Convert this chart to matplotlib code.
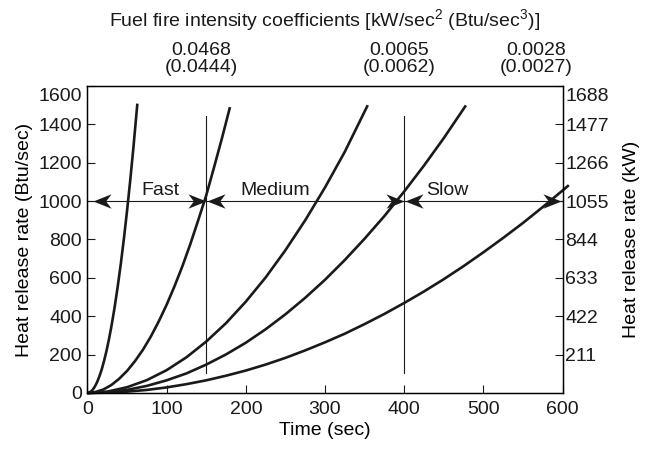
import matplotlib
matplotlib.use("Agg")
import matplotlib.pyplot as plt
from matplotlib.path import Path
from matplotlib.transforms import blended_transform_factory, ScaledTranslation

plt.rcParams["font.family"] = ["Liberation Sans", "DejaVu Sans"]
plt.rcParams["mathtext.fontset"] = "custom"
plt.rcParams["mathtext.rm"] = "Liberation Sans"
plt.rcParams["mathtext.default"] = "rm"
FS = 14

# heat release curves (time in s, Q in Btu/sec)
t_ultra = [0, 3, 6, 9, 12, 15, 18, 21, 24, 27, 30, 34, 38, 42, 46, 50, 54, 58, 63]
q_ultra = [0, 4, 14, 31, 55, 86, 123, 168, 219, 277, 342, 439, 549, 670, 804, 950,
           1108, 1278, 1508]
t_fast = [0, 10, 20, 30, 40, 50, 60, 70, 80, 90, 100, 110, 120, 130, 140, 150,
          160, 170, 180]
q_fast = [0, 5, 18, 41, 74, 115, 166, 225, 294, 373, 460, 557, 662, 777, 902, 1030,
          1178, 1330, 1490]
t_med = [0, 25, 50, 75, 100, 125, 150, 175, 200, 225, 250, 275, 300, 325, 354]
q_med = [0, 7, 30, 67, 119, 186, 268, 364, 476, 602, 744, 900, 1071, 1257, 1500]
t_c4 = [0, 25, 50, 75, 100, 125, 150, 175, 200, 225, 250, 275, 300, 325, 350,
        375, 400, 425, 450, 478]
q_c4 = [0, 4, 16, 37, 66, 102, 148, 201, 262, 332, 410, 496, 590, 693, 804,
        922, 1050, 1185, 1328, 1499]
t_slow = [0, 25, 50, 75, 100, 125, 150, 175, 200, 225, 250, 275, 300, 325, 350,
          375, 400, 425, 450, 475, 500, 525, 550, 575, 600, 608]
q_slow = [0, 2, 7, 16, 29, 46, 66, 90, 117, 148, 183, 222, 264, 309, 359,
          412, 469, 529, 593, 661, 733, 808, 886, 969, 1055, 1083]
curves = [(t_ultra, q_ultra), (t_fast, q_fast), (t_med, q_med), (t_c4, q_c4), (t_slow, q_slow)]

btu_ticks = [0, 200, 400, 600, 800, 1000, 1200, 1400, 1600]
kw_ticks = [200, 400, 600, 800, 1000, 1200, 1400, 1600]
kw_labels = ["211", "422", "633", "844", "1055", "1266", "1477", "1688"]

coef_t = [144, 393.5, 567]
coef_labels = ["0.0468\n(0.0444)", "0.0065\n(0.0062)", "0.0028\n(0.0027)"]

class_t = [92, 237, 454]
class_labels = ["Fast", "Medium", "Slow"]
divider_t = [150, 400]
ref_q = 1000
# arrow tips along the 1000 Btu/sec line: (time, direction)
tips = [(7, -1), (149.5, 1), (150.5, -1), (399.5, 1), (400.5, -1), (598, 1)]

fig = plt.figure(figsize=(6.47, 4.5), dpi=100)
ax = fig.add_axes([0.1352, 0.1267, 0.8694 - 0.1352, 0.8089 - 0.1267])

for t, q in curves:
    ax.plot(t, q, color="#1a1a1a", lw=1.9, clip_on=False, solid_capstyle="butt",
            solid_joinstyle="round")

for d in divider_t:
    ax.plot([d, d], [105, 1445], color="#1a1a1a", lw=0.8)
ax.axhline(ref_q, color="#1a1a1a", lw=0.8)

right_head = Path([(0, 0), (-1, 0.4), (-0.7, 0), (-1, -0.4), (0, 0)],
                  [Path.MOVETO, Path.LINETO, Path.LINETO, Path.LINETO, Path.CLOSEPOLY])
left_head = Path([(0, 0), (1, 0.4), (0.7, 0), (1, -0.4), (0, 0)],
                 [Path.MOVETO, Path.LINETO, Path.LINETO, Path.LINETO, Path.CLOSEPOLY])
for x, d in tips:
    ax.plot([x], [ref_q], marker=right_head if d > 0 else left_head, ms=26,
            color="#1a1a1a", mew=0, linestyle="none")

for x, s in zip(class_t, class_labels):
    ax.text(x, 1012, s, ha="center", va="bottom", fontsize=FS, color="#1a1a1a")

ax.set_xlim(0, 600)
ax.set_ylim(0, 1600)
ax.set_xticks([0, 100, 200, 300, 400, 500, 600])
ax.set_yticks(btu_ticks)
ax.tick_params(direction="in", length=6, width=0.8, labelsize=FS, pad=4, colors="#1a1a1a")
ax.tick_params(axis="x", pad=6)
for sp in ax.spines.values():
    sp.set_linewidth(1.0)
ax.set_xlabel("Time (sec)", fontsize=FS, labelpad=3)
ax.set_ylabel("Heat release rate (Btu/sec)", fontsize=FS, labelpad=4)

ax2 = ax.twinx()
ax2.set_ylim(0, 1600)
ax2.set_yticks(kw_ticks)
ax2.set_yticklabels(kw_labels)
ax2.tick_params(direction="in", length=6, width=0.8, labelsize=FS, pad=2, colors="#1a1a1a")
ax2.set_ylabel("Heat release rate (kW)", fontsize=FS, labelpad=10)

# top labels sit a little below the top edge
shift = ScaledTranslation(0, -9 / 100, fig.dpi_scale_trans)
ax.get_yticklabels()[-1].set_transform(ax.get_yticklabels()[-1].get_transform() + shift)
ax2.get_yticklabels()[-1].set_transform(ax2.get_yticklabels()[-1].get_transform() + shift)

bt = blended_transform_factory(ax.transData, ax.transAxes)
for x, s in zip(coef_t, coef_labels):
    ax.text(x, 1.088, s, transform=bt, ha="center", va="center", fontsize=FS,
            linespacing=1.0, color="#1a1a1a")
ax.text(0.5, 1.215, r"Fuel fire intensity coefficients [kW/sec$^2$ (Btu/sec$^3$)]",
        transform=ax.transAxes, ha="center", va="center", fontsize=FS, color="#1a1a1a")

fig.savefig("out.png", dpi=100)
